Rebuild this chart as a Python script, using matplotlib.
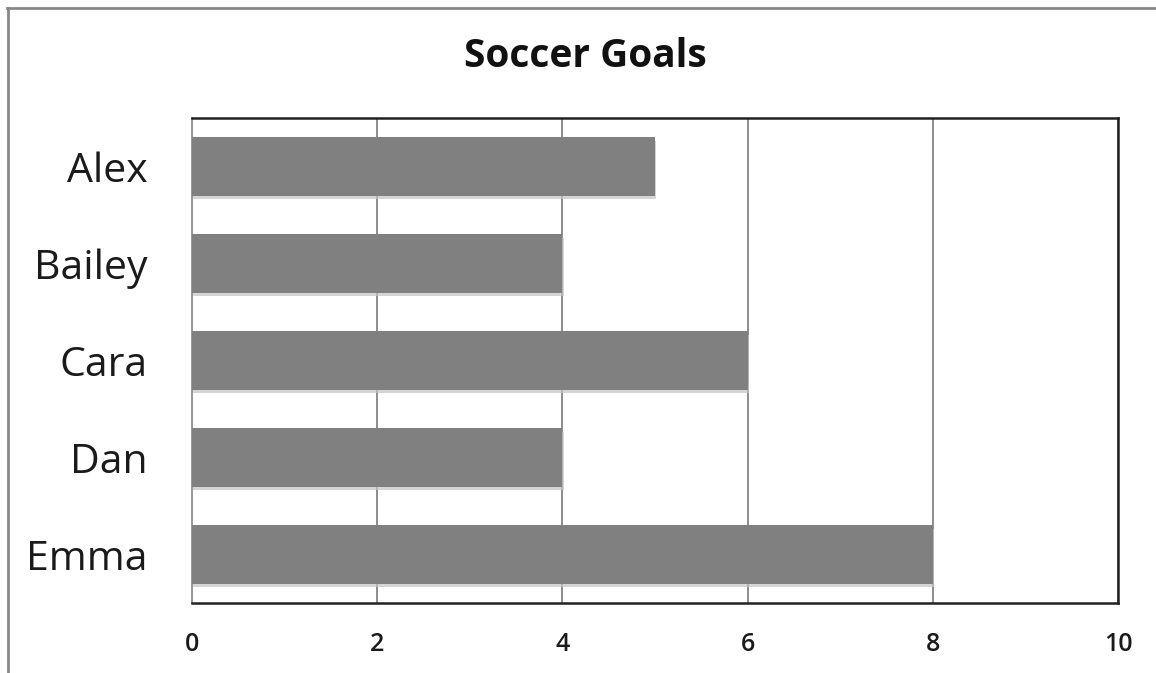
import matplotlib.pyplot as plt
import matplotlib.patheffects as pe
from matplotlib.lines import Line2D

players = ['Alex', 'Bailey', 'Cara', 'Dan', 'Emma']
goals = [5, 4, 6, 4, 8]
x_ticks = [0, 2, 4, 6, 8, 10]

fig = plt.figure(figsize=(11.56, 6.73), dpi=100)
ax = fig.add_axes([192 / 1156, 70 / 673, 926 / 1156, 485 / 673])

ypos = list(range(len(players)))
bars = ax.barh(ypos, goals, height=0.6, color='#808080', zorder=3)
for b in bars:
    b.set_path_effects([pe.SimplePatchShadow(offset=(1, -2.5), shadow_rgbFace='#c4c4c4', alpha=0.7), pe.Normal()])

ax.set_xlim(0, 10)
ax.set_ylim(len(players) - 0.5, -0.5)
ax.set_xticks(x_ticks)
ax.set_yticks(ypos)
ax.set_yticklabels(players, fontfamily='Open Sans', fontsize=29.5, color='#1a1a1a')
ax.set_xticklabels([str(t) for t in x_ticks], fontfamily='Open Sans', fontsize=18, fontweight='semibold', color='#1a1a1a')
ax.tick_params(axis='y', length=0, pad=32)
ax.tick_params(axis='x', length=0, pad=21)
ax.grid(axis='x', color='#8c8c8c', linewidth=1.4, zorder=0)

for side in ['top', 'right', 'bottom']:
    ax.spines[side].set_color('#222222')
    ax.spines[side].set_linewidth(1.8)
ax.spines['left'].set_color('#999999')
ax.spines['left'].set_linewidth(1.4)

fig.text(0.506, 0.901, 'Soccer Goals', ha='center', va='baseline',
         fontfamily='Open Sans', fontsize=28, fontweight='bold', color='#111111')

# outer frame (top and left only, like the screenshot)
fig.add_artist(Line2D([7 / 1156, 1], [1 - 8 / 673, 1 - 8 / 673], transform=fig.transFigure, color='#888888', linewidth=2))
fig.add_artist(Line2D([8 / 1156, 8 / 1156], [0, 1 - 8 / 673], transform=fig.transFigure, color='#888888', linewidth=2))

fig.savefig('out.png', dpi=100)
